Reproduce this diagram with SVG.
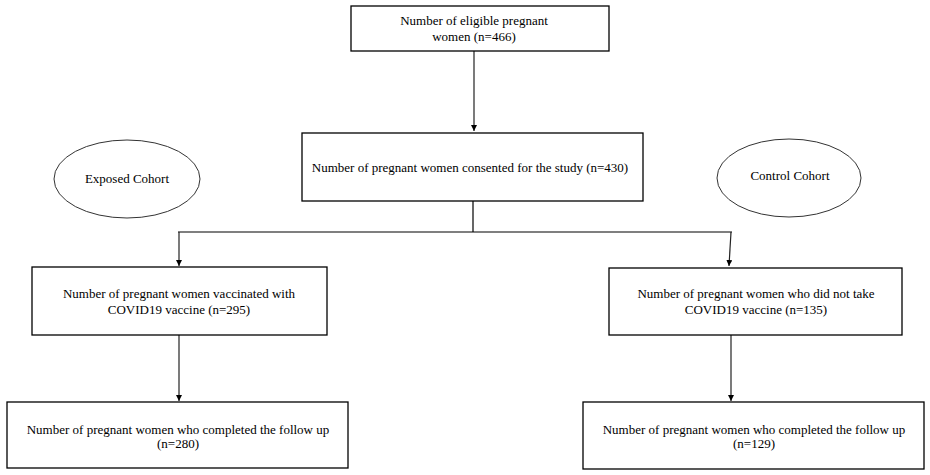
<svg xmlns="http://www.w3.org/2000/svg" width="930" height="475" viewBox="0 0 930 475">
<defs>
<style>
.box{fill:#fff;stroke:#000;stroke-width:1.3}
.ell{fill:#fff;stroke:#333;stroke-width:1}
.t{font-family:"Liberation Serif","Times New Roman",serif;font-size:13px;fill:#000;text-anchor:middle}
.ln{stroke:#000;stroke-width:1.2;fill:none}
.ar{stroke:#222;stroke-width:1.2;fill:none;marker-end:url(#ah)}
</style>
<marker id="ah" viewBox="0 0 8 8" refX="8" refY="4" markerWidth="6" markerHeight="6" markerUnits="userSpaceOnUse" orient="auto">
<path d="M0,0 L8,4 L0,8 Z" fill="#000"/>
</marker>
</defs>
<rect width="930" height="475" fill="#fff"/>
<g id="connectors">
<line class="ar" x1="474" y1="51" x2="474" y2="131"/>
<line class="ln" x1="473" y1="201" x2="473" y2="232"/>
<line class="ln" x1="178" y1="232" x2="732" y2="232"/>
<line class="ar" x1="179" y1="232" x2="179" y2="266"/>
<line class="ar" x1="731" y1="232" x2="729" y2="266"/>
<line class="ar" x1="179" y1="335" x2="179" y2="401"/>
<line class="ar" x1="731" y1="335" x2="731" y2="401"/>
</g>
<g id="n-eligible">
<rect class="box" x="351" y="6" width="258" height="45"/>
<text class="t" x="474" y="25">Number of eligible pregnant</text>
<text class="t" x="474" y="41">women (n=466)</text>
</g>
<g id="n-consented">
<rect class="box" x="302" y="133" width="341" height="68"/>
<text class="t" x="470" y="172">Number of pregnant women consented for the study (n=430)</text>
</g>
<g id="n-exposed">
<ellipse class="ell" cx="127" cy="179" rx="73" ry="39"/>
<text class="t" x="127" y="183">Exposed Cohort</text>
</g>
<g id="n-control">
<ellipse class="ell" cx="789" cy="178" rx="72" ry="39"/>
<text class="t" x="790" y="180">Control Cohort</text>
</g>
<g id="n-vaccinated">
<rect class="box" x="32" y="267" width="295" height="68"/>
<text class="t" x="179" y="298">Number of pregnant women vaccinated with</text>
<text class="t" x="179" y="314">COVID19 vaccine (n=295)</text>
</g>
<g id="n-unvaccinated">
<rect class="box" x="609" y="268" width="293" height="67"/>
<text class="t" x="756" y="298">Number of pregnant women who did not take</text>
<text class="t" x="756" y="314">COVID19 vaccine (n=135)</text>
</g>
<g id="n-followup-left">
<rect class="box" x="7" y="402" width="341" height="66"/>
<text class="t" x="178" y="434">Number of pregnant women who completed the follow up</text>
<text class="t" x="178" y="448">(n=280)</text>
</g>
<g id="n-followup-right">
<rect class="box" x="583" y="402" width="341" height="67"/>
<text class="t" x="754" y="434">Number of pregnant women who completed the follow up</text>
<text class="t" x="754" y="448">(n=129)</text>
</g>
</svg>
